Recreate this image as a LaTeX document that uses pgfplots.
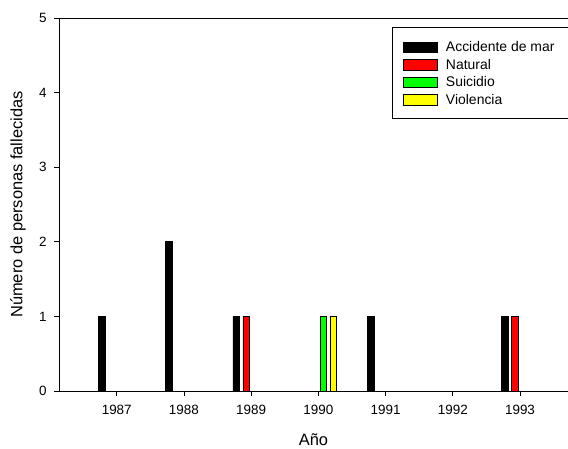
\documentclass[border=0pt]{standalone}
\usepackage{fontspec}
\setmainfont{Liberation Sans}
\usepackage{pgfplots}
\pgfplotsset{compat=1.18}
\definecolor{natural}{RGB}{255,0,0}
\definecolor{suicidio}{RGB}{0,255,0}
\definecolor{violencia}{RGB}{255,255,0}

\begin{document}
\begin{tikzpicture}
\useasboundingbox (-59bp,-58bp) rectangle (509bp,391bp);
\begin{axis}[
  at={(0,0)}, anchor=south west,
  scale only axis,
  width=509bp, height=373bp,
  xmin=1986.141, xmax=1993.714,
  ymin=0, ymax=5,
  axis x line*=bottom,
  axis y line*=left,
  axis line style={-, line width=0.8bp},
  xtick={1987,1988,1989,1990,1991,1992,1993},
  ytick={0,1,2,3,4,5},
  tick align=outside,
  major tick length=5bp,
  tick style={line width=0.8bp, black},
  x tick label style={/pgf/number format/1000 sep={}, yshift=-6bp},
  y tick label style={xshift=-4bp},
  /pgf/number format/assume math mode=true,
  tick label style={font=\fontsize{13.5}{14}\selectfont},
  xlabel={Año},
  ylabel={Número de personas fallecidas},
  every axis x label/.style={at={(rel axis cs:0.5,0)}, yshift=-49bp, anchor=center,
    font=\fontsize{16.5}{18}\selectfont},
  every axis y label/.style={at={(rel axis cs:0,0.5)}, xshift=-41bp, rotate=90, anchor=center,
    font=\fontsize{16.5}{18}\selectfont},
  clip=false,
  legend image code/.code={\draw[#1] (0bp,-6bp) rectangle (34bp,4.5bp);},
  legend style={
    at={(rel axis cs:0.6542,0.9759)}, anchor=north west,
    draw=black, line width=0.8bp,
    inner xsep=11bp, inner ysep=13bp,
    row sep=5bp,
    font=\fontsize{14}{14}\selectfont,
    nodes={inner sep=0pt, text height=11.5bp, text depth=1bp},
    /tikz/every odd column/.append style={column sep=8bp},
  },
  legend cell align=left,
]
% top frame line (no right line in the reference)
\draw[line width=0.8bp] (rel axis cs:0,1) -- (rel axis cs:1,1);

% Accidente de mar
\addplot[ybar, bar width=6.7bp, bar shift=-15bp, fill=black, draw=black, line width=0.6bp, forget plot]
  coordinates {(1987,1) (1988,2) (1989,1) (1991,1) (1993,1)};
% Natural
\addplot[ybar, bar width=6.7bp, bar shift=-5bp, fill=natural, draw=black, line width=0.6bp, forget plot]
  coordinates {(1989,1) (1993,1)};
% Suicidio
\addplot[ybar, bar width=6.7bp, bar shift=5bp, fill=suicidio, draw=black, line width=0.6bp, forget plot]
  coordinates {(1990,1)};
% Violencia
\addplot[ybar, bar width=6.7bp, bar shift=15bp, fill=violencia, draw=black, line width=0.6bp, forget plot]
  coordinates {(1990,1)};

% the legend box runs past the right edge of the picture, as in the reference
\addlegendimage{fill=black, draw=black, line width=0.6bp}
\addlegendentry{Accidente de mar\rule{14bp}{0bp}}
\addlegendimage{fill=natural, draw=black, line width=0.6bp}
\addlegendentry{Natural}
\addlegendimage{fill=suicidio, draw=black, line width=0.6bp}
\addlegendentry{Suicidio}
\addlegendimage{fill=violencia, draw=black, line width=0.6bp}
\addlegendentry{Violencia}
\end{axis}
\end{tikzpicture}
\end{document}
